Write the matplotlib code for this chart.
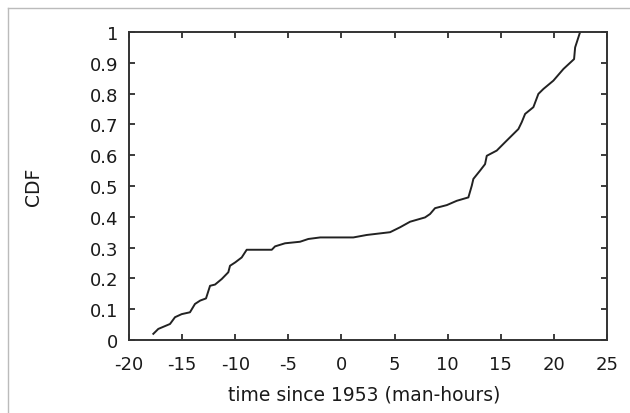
import matplotlib
matplotlib.use("Agg")
import matplotlib.pyplot as plt
from matplotlib.lines import Line2D

plt.rcParams['font.family'] = ['DejaVu Sans']

time_vals = [-17.71, -17.24, -16.14, -15.67, -15.04, -14.26, -13.79, -13.3, -12.75,
             -12.37, -11.9, -11.27, -10.65, -10.49, -10.0, -9.39, -8.92, -6.56, -6.25,
             -5.31, -3.9, -3.12, -2.0, 1.12, 2.38, 4.58, 5.52, 6.46, 7.87, 8.34, 8.81,
             9.92, 10.86, 11.95, 12.27, 12.42, 13.05, 13.52, 13.68, 14.62, 15.4, 16.66,
             16.97, 17.29, 18.07, 18.54, 19.01, 19.95, 20.9, 21.9, 22.0, 22.47]
cdf_vals = [0.02, 0.036, 0.052, 0.074, 0.084, 0.09, 0.117, 0.128, 0.135, 0.176, 0.18,
            0.198, 0.22, 0.241, 0.252, 0.268, 0.293, 0.293, 0.304, 0.314, 0.319, 0.328,
            0.333, 0.333, 0.341, 0.35, 0.366, 0.384, 0.398, 0.409, 0.428, 0.438, 0.452,
            0.463, 0.501, 0.523, 0.55, 0.571, 0.598, 0.615, 0.642, 0.685, 0.707, 0.734,
            0.756, 0.799, 0.815, 0.842, 0.88, 0.912, 0.95, 1.0]

x_ticks = [-20, -15, -10, -5, 0, 5, 10, 15, 20, 25]
y_ticks = [0, 0.1, 0.2, 0.3, 0.4, 0.5, 0.6, 0.7, 0.8, 0.9, 1]
y_tick_labels = ["0", "0.1", "0.2", "0.3", "0.4", "0.5", "0.6", "0.7", "0.8", "0.9", "1"]

W, H = 630, 414
fig = plt.figure(figsize=(W / 100, H / 100), dpi=100)
left, right, top, bottom = 129, 607, 33, 341
ax = fig.add_axes([left / W, 1 - bottom / H, (right - left) / W, (bottom - top) / H])

ax.plot(time_vals, cdf_vals, color='#222222', lw=1.4)
ax.set_xlim(-20, 25)
ax.set_ylim(0, 1)
ax.set_xticks(x_ticks)
ax.set_xticklabels([str(v) for v in x_ticks])
ax.set_yticks(y_ticks)
ax.set_yticklabels(y_tick_labels)
ax.tick_params(direction='in', top=True, right=True, length=4, width=1.2,
               labelsize=13, colors='#1a1a1a')
ax.tick_params(axis='x', pad=11)
ax.tick_params(axis='y', pad=8)
for s in ax.spines.values():
    s.set_linewidth(1.4)
    s.set_color('#333333')

fig.text(364.5 / W, 1 - 395 / H, "time since 1953 (man-hours)", fontsize=13.5,
         color='#1a1a1a', ha='center', va='center')
fig.text(34 / W, 1 - 187 / H, "CDF", fontsize=13.5, color='#1a1a1a',
         ha='center', va='center', rotation=90)

# light figure border (left and top)
fig.add_artist(Line2D([8 / W, 8 / W], [0, 1 - 9 / H], transform=fig.transFigure,
                      color='#bbbbbb', lw=1))
fig.add_artist(Line2D([8 / W, 1], [1 - 9 / H, 1 - 9 / H], transform=fig.transFigure,
                      color='#bbbbbb', lw=1))

fig.savefig("out.png", dpi=100)
